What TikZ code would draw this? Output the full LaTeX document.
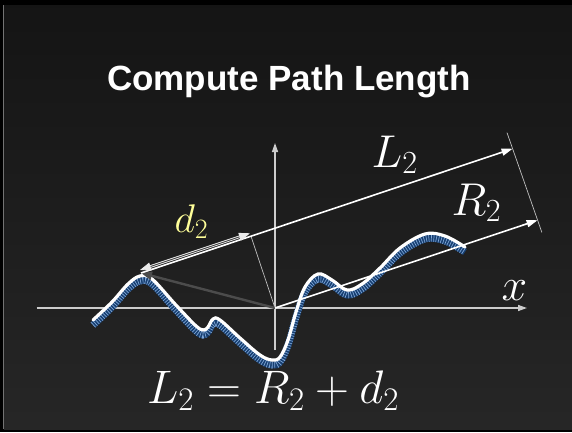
\RequirePackage{fix-cm}
\documentclass[tikz,border=0pt]{standalone}
\usepackage{fontspec}
\newfontfamily\titlefont{Liberation Sans}
\usetikzlibrary{arrows.meta,calc}
\definecolor{dlab}{HTML}{FFFF99}
\definecolor{waveblue}{HTML}{163E70}
\definecolor{wavelite}{HTML}{7FA6D6}
\begin{document}
\begin{tikzpicture}[x=1pt,y=-1pt,line width=1.2pt,
  axis/.style={draw=black!20,line width=1.4pt,-{Triangle[length=9pt,width=6pt]}},
  vec/.style={draw=white,line width=1.6pt,-{Triangle[length=11pt,width=7pt]}},
  guide/.style={draw=black!25,line width=.7pt},
  wavebase/.style={draw=waveblue,line width=7pt,yshift=-5pt},
  wavestripe/.style={draw=wavelite,line width=7pt,yshift=-5pt,dash pattern=on .7pt off 1.8pt},
  wavetop/.style={draw=white,line width=3.2pt,line cap=round},
  lbl/.style={text=white,anchor=base west,inner sep=0pt,font=\fontsize{46}{52}\selectfont}]
\fill[black] (0,0) rectangle (572,432);
\shade[top color=black!92,bottom color=black!85] (4,5) rectangle (572,429);
\draw[black!55,line width=1pt] (3.5,5)--(3.5,429);
\coordinate (O) at (275,308);
\coordinate (P) at (141,273);
\coordinate (F) at (251,236.3);
\coordinate (Ltip) at (512.6,148.7);
\coordinate (Rtip) at (537.6,220.2);
\coordinate (xs) at (36.5,308);\coordinate (xe) at (527,308);
\coordinate (ys) at (275,350);\coordinate (ye) at (275,143);
\draw[axis] (xs)--(xe);
\draw[axis] (ys)--(ye);
\foreach \S in {wavebase,wavestripe,wavetop}{
\draw[\S] plot[smooth,tension=.6] coordinates {(93,320) (112,302) (128,284) (140,276) (152,279) (175,304) (195,325) (203,330) (208,327) (213,319) (220,320) (240,338) (260,355) (272,360) (280,357) (288,340) (296,312) (305,287) (318,274) (332,280) (347,290) (362,284) (380,268) (400,248) (425,234) (445,236) (465,247)};}
\draw[guide] (O)--(F);
\draw[guide] ($(Ltip)!-17pt!(Rtip)$)--($(Rtip)!-13pt!(Ltip)$);
\draw[draw=black!70,line width=2.4pt,-{Triangle[length=11pt,width=8pt]}] (O)--(P);
\draw[vec] (P)--(Ltip);
\draw[vec] (O)--(Rtip);
\draw[draw=black!8,double=black!75,double distance=.9pt,line width=.9pt,{Triangle[length=11pt,width=8pt]}-{Triangle[length=11pt,width=8pt]}] ([shift={(-1,-3)}]P)--([shift={(-1,-3)}]F);
\node[text=white,anchor=base,font=\titlefont\bfseries\fontsize{35}{40}\selectfont] (title) at (289,90) {Compute Path Length};
\node[lbl] (lenL) at (371,167) {$L_2$};
\node[lbl] (lenR) at (451,215) {$R_2$};
\node[lbl] (xlab) at (501,300) {$x$};
\node[lbl,text=dlab,font=\fontsize{40}{46}\selectfont] (lenD) at (174,232) {$d_2$};
\node[text=white,anchor=base,inner sep=0pt,font=\fontsize{47}{52}\selectfont] (eqn) at (273,403) {$L_2=R_2+d_2$};
\end{tikzpicture}
\end{document}
